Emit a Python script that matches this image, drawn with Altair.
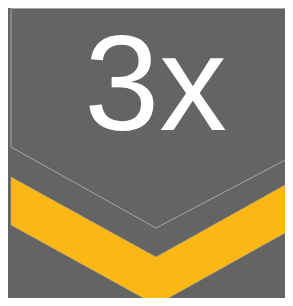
import altair as alt
import pandas as pd

# Shape vertices in reference-pixel coordinates
outline_x = [11, 310, 310, 156, 11, 11]
outline_y = [8.5, 8.5, 147, 228, 147, 8.5]

chev_x = [11, 156, 310]
chev_top = [177, 257, 171]
chev_bot = [225, 305, 219]

label_text = ["3x"]
label_x = [155.5]
label_y = [130]

outline_df = pd.DataFrame({"x": outline_x, "y": outline_y, "o": list(range(len(outline_x)))})
chev_df = pd.DataFrame({"x": chev_x, "top": chev_top, "bot": chev_bot})
label_df = pd.DataFrame({"t": label_text, "x": label_x, "y": label_y})

W, H = 277, 290
xs = alt.Scale(domain=[8, 8 + W], range=[0, W], nice=False, zero=False)
ys = alt.Scale(domain=[8, 8 + H], range=[0, H], nice=False, zero=False)

outline = alt.Chart(outline_df).mark_line(color="#a6a6a6", strokeWidth=1).encode(
    x=alt.X("x:Q", scale=xs, axis=None),
    y=alt.Y("y:Q", scale=ys, axis=None),
    order="o:Q",
)

chev = alt.Chart(chev_df).mark_area(color="#fbb714", stroke="#b0a890", strokeWidth=0.6).encode(
    x=alt.X("x:Q", scale=xs, axis=None),
    y=alt.Y("top:Q", scale=ys, axis=None),
    y2="bot:Q",
)

label = alt.Chart(label_df).mark_text(
    font="Liberation Sans", fontSize=135, color="white", baseline="alphabetic", align="center"
).encode(
    x=alt.X("x:Q", scale=xs, axis=None),
    y=alt.Y("y:Q", scale=ys, axis=None),
    text="t:N",
)

chart = alt.layer(chev, outline, label).properties(
    width=W, height=H, padding=0, autosize="none", background="#646464"
).configure_view(stroke=None)

chart.save("out.html", embed_options={"renderer": "svg", "actions": False})
